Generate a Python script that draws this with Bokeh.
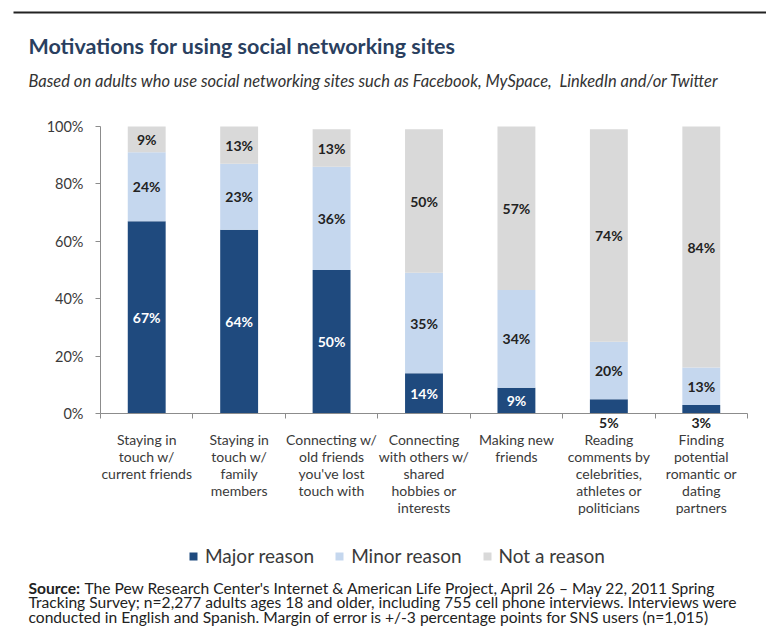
from bokeh.plotting import figure
from bokeh.models import (ColumnDataSource, FixedTicker, LabelSet, Label, Legend,
                          LegendItem, BoxAnnotation, Range1d)
from bokeh.core.properties import value
from bokeh.embed import file_html
from bokeh.resources import INLINE

# ---------------- data ----------------
categories = [
    "Staying in\ntouch w/\ncurrent friends",
    "Staying in\ntouch w/\nfamily\nmembers",
    "Connecting w/\nold friends\nyou've lost\ntouch with",
    "Connecting\nwith others w/\nshared\nhobbies or\ninterests",
    "Making new\nfriends",
    "Reading\ncomments by\ncelebrities,\nathletes or\npoliticians",
    "Finding\npotential\nromantic or\ndating\npartners",
]
major = [67, 64, 50, 14, 9, 5, 3]
minor = [24, 23, 36, 35, 34, 20, 13]
not_reason = [9, 13, 13, 50, 57, 74, 84]
series_names = ["Major reason", "Minor reason", "Not a reason"]
y_ticks = [0, 20, 40, 60, 80, 100]

title_text = "Motivations for using social networking sites"
subtitle_text = ("Based on adults who use social networking sites such as Facebook, "
                 "MySpace,\u00a0 LinkedIn and/or Twitter")
source_bold = "Source:"
source_lines = [
    "The Pew Research Center's Internet & American Life Project, April 26 \u2013 May 22, 2011 Spring",
    "Tracking Survey; n=2,277 adults ages 18 and older, including 755 cell phone interviews. Interviews were",
    "conducted in English and Spanish. Margin of error is +/-3 percentage points for SNS users (n=1,015)",
]

# ---------------- styles / layout ----------------
FONT = "Lato"
colors = ["#1F4A7E", "#C5D7EE", "#D9D9D9"]
text_dark = "#3A3A3A"
W, H = 766, 636
AX_LEFT, AX_RIGHT = 100, 747      # pixel extent of the category axis
Y0, Y100 = 413, 126               # pixel rows of 0% and 100%

n = len(categories)
xs = [i + 0.5 for i in range(n)]
px_per_cat = (AX_RIGHT - AX_LEFT) / n
px_per_pct = (Y0 - Y100) / 100.0

src = ColumnDataSource(dict(x=xs, major=major, minor=minor, not_reason=not_reason))

p = figure(width=W, height=H,
           x_range=Range1d(-AX_LEFT / px_per_cat, (W - AX_LEFT) / px_per_cat),
           y_range=Range1d(-(H - Y0) / px_per_pct, 100 + Y100 / px_per_pct),
           output_backend="svg", toolbar_location=None,
           min_border=0, min_border_left=0, min_border_right=0,
           min_border_top=0, min_border_bottom=0)
p.outline_line_color = None
p.xgrid.visible = False
p.ygrid.visible = False
p.background_fill_color = "white"
p.border_fill_color = "white"

renderers = p.vbar_stack(["major", "minor", "not_reason"], x="x", width=0.41,
                         source=src, color=colors, line_color=None)

# y axis (fixed at x = 0)
yax = p.yaxis[0]
yax.fixed_location = 0
yax.bounds = (0, 100)
yax.ticker = FixedTicker(ticks=y_ticks, minor_ticks=[])
yax.major_label_overrides = {t: f"{t}%" for t in y_ticks}
yax.axis_line_color = "#8C8C8C"
yax.major_tick_line_color = "#8C8C8C"
yax.major_tick_out = 5
yax.major_tick_in = 0
yax.minor_tick_line_color = None
yax.major_label_text_font = FONT
yax.major_label_text_font_size = "14.5px"
yax.major_label_text_color = text_dark
yax.major_label_standoff = 12

# x axis (fixed at y = 0): labels at centres, ticks at category boundaries
xax = p.xaxis[0]
xax.fixed_location = 0
xax.bounds = (0, n)
xax.ticker = FixedTicker(ticks=xs, minor_ticks=list(range(n + 1)))
xax.major_label_overrides = {x: c for x, c in zip(xs, categories)}
xax.axis_line_color = "#8C8C8C"
xax.major_tick_line_color = None
xax.major_tick_out = 0
xax.major_tick_in = 0
xax.minor_tick_line_color = "#8C8C8C"
xax.minor_tick_out = 5
xax.minor_tick_in = 0
xax.major_label_text_font = FONT
xax.major_label_text_font_size = "14px"
xax.major_label_text_color = text_dark
xax.major_label_text_line_height = 1.0
xax.major_label_standoff = 12

# value labels
lx, ly, lt, lc, lo = [], [], [], [], []
for i in range(n):
    segs = [major[i], minor[i], not_reason[i]]
    base = 0
    for k, v in enumerate(segs):
        mid = base + v / 2
        if k == 0 and v < 8:
            lx.append(xs[i]); ly.append(0); lt.append(f"{v}%"); lc.append("#222222"); lo.append(-9)
        else:
            lx.append(xs[i]); ly.append(mid); lt.append(f"{v}%")
            lc.append("white" if k == 0 else "#222222"); lo.append(0)
        base += v
lsrc = ColumnDataSource(dict(x=lx, y=ly, t=lt, c=lc, o=lo))
p.add_layout(LabelSet(x="x", y="y", text="t", source=lsrc, text_color="c", y_offset="o",
                      text_align="center", text_baseline="middle",
                      text_font=value(FONT), text_font_style="bold",
                      text_font_size="14px"))

# legend
legend = Legend(items=[LegendItem(label=name, renderers=[r]) for name, r in zip(series_names, renderers)],
                orientation="horizontal", location=(188, H - 567),
                glyph_width=10, glyph_height=10, label_height=20, label_standoff=7,
                spacing=20, padding=0, margin=0, border_line_color=None,
                background_fill_alpha=0,
                label_text_font=FONT, label_text_font_size="19px", label_text_color=text_dark)
p.add_layout(legend, "center")

# top rule
p.add_layout(BoxAnnotation(left=13, right=W, bottom=H - 13, top=H - 11,
                           left_units="screen", right_units="screen",
                           top_units="screen", bottom_units="screen",
                           fill_color="#222222", fill_alpha=1, line_color=None))

LX = 28
# title and subtitle
p.add_layout(Label(x=LX, y=H - 45, x_units="screen", y_units="screen", text=title_text,
                   text_font=FONT, text_font_style="bold", text_font_size="21.5px",
                   text_color="#2A3F5F", text_baseline="middle"))
p.add_layout(Label(x=LX, y=H - 80, x_units="screen", y_units="screen", text=subtitle_text,
                   text_font=FONT, text_font_style="italic", text_font_size="16.5px",
                   text_color="#333333", text_baseline="middle"))

# source
SRC_SIZE = "15.6px"
for j, line in enumerate(source_lines):
    yv = H - 587 - 14.5 * j
    if j == 0:
        p.add_layout(Label(x=LX, y=yv, x_units="screen", y_units="screen", text=source_bold,
                           text_font=FONT, text_font_style="bold", text_font_size=SRC_SIZE,
                           text_color="#222222", text_baseline="middle"))
        p.add_layout(Label(x=LX + 56, y=yv, x_units="screen", y_units="screen", text=line,
                           text_font=FONT, text_font_size=SRC_SIZE,
                           text_color="#222222", text_baseline="middle"))
    else:
        p.add_layout(Label(x=LX, y=yv, x_units="screen", y_units="screen", text=line,
                           text_font=FONT, text_font_size=SRC_SIZE,
                           text_color="#222222", text_baseline="middle"))

open("out.html", "w").write(file_html(p, INLINE))
